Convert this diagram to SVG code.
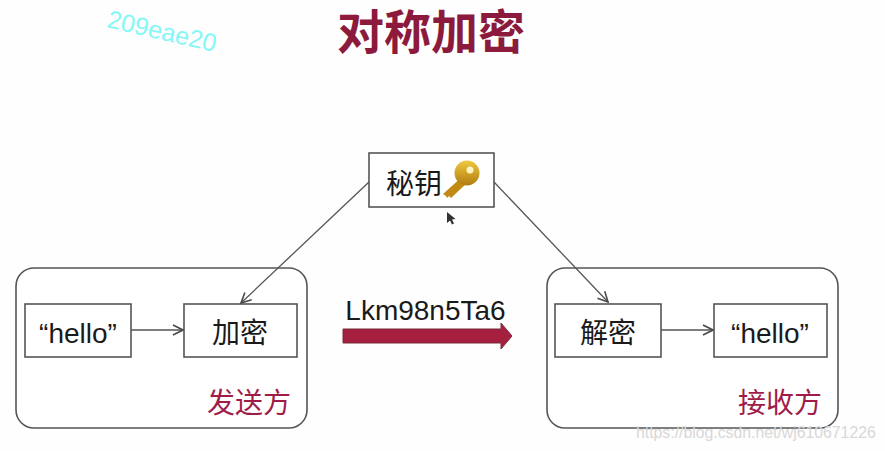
<svg xmlns="http://www.w3.org/2000/svg" width="885" height="451" viewBox="0 0 885 451">
<defs>
<marker id="arr" viewBox="0 0 12 12" refX="11" refY="6" markerWidth="12" markerHeight="12" markerUnits="userSpaceOnUse" orient="auto"><path d="M1 1L11 6L1 11" fill="none" stroke="#4a4a4a" stroke-width="1.6"/></marker>
<linearGradient id="kg" x1="0" y1="0" x2="0" y2="1"><stop offset="0" stop-color="#f0c840"/><stop offset="1" stop-color="#b07c10"/></linearGradient>
</defs>
<style>
text{font-family:"Liberation Sans","Noto Sans CJK SC",sans-serif}
.group{fill:#fff;stroke:#555;stroke-width:1.6}
.box{fill:#fff;stroke:#555;stroke-width:1.6}
.lbl{font-size:28px;fill:#1a1a1a;text-anchor:middle}
.red{font-size:28px;fill:#a01c48;text-anchor:middle}
.conn{stroke:#555;stroke-width:1.3;fill:none;marker-end:url(#arr)}
</style>
<rect width="885" height="451" fill="#fefefe"/>
<text x="431" y="49" font-size="47" font-weight="bold" fill="#8c1a3c" text-anchor="middle">对称加密</text>
<text x="106" y="27" font-size="25" fill="#84f7f7" transform="rotate(13 106 27)">209eae20</text>
<g id="sender"><rect class="group" x="16" y="268" width="291" height="160" rx="18"/><text class="red" x="249" y="413">发送方</text></g>
<g id="receiver"><rect class="group" x="547" y="268" width="291" height="160" rx="18"/><text class="red" x="780" y="413">接收方</text></g>
<g id="key"><rect class="box" x="369" y="153" width="125" height="54"/><text class="lbl" x="414" y="194">秘钥</text>
<g><path d="M443 194L463 176L469 181L451 198L449 196L447 198L446 196Z" fill="#c08a14"/><circle cx="467" cy="173" r="12.500" fill="url(#kg)"/><circle cx="470" cy="170" r="3.500" fill="#fff3c0"/></g></g>
<g id="hello-left"><rect class="box" x="25" y="304" width="106" height="53"/><text class="lbl" x="78" y="343">“hello”</text></g>
<g id="encrypt"><rect class="box" x="184" y="304" width="113" height="53"/><text class="lbl" x="240" y="343">加密</text></g>
<g id="decrypt"><rect class="box" x="555" y="304" width="106" height="53"/><text class="lbl" x="608" y="343">解密</text></g>
<g id="hello-right"><rect class="box" x="714" y="304" width="113" height="53"/><text class="lbl" x="770" y="343">“hello”</text></g>
<g id="connectors">
<path class="conn" d="M369 182L241 303"/>
<path class="conn" d="M494 182L608 302"/>
<path class="conn" d="M131 330L183 330"/>
<path class="conn" d="M661 330L713 330"/>
<path d="M343 329H501V323L512 336L501 349V343H343Z" fill="#a51f3f" stroke="#7a2a3a" stroke-width="1"/>
</g>
<text x="425.500" y="320" font-size="28" fill="#1a1a1a" text-anchor="middle">Lkm98n5Ta6</text>
<path d="M447 212l0 11l3-2.500l2 4l2-1l-2-4l3.500-.5Z" fill="#333"/>
<text x="636" y="438" font-size="15.800" fill="#d8d8d8">https://blog.csdn.net/wj610671226</text>
</svg>
